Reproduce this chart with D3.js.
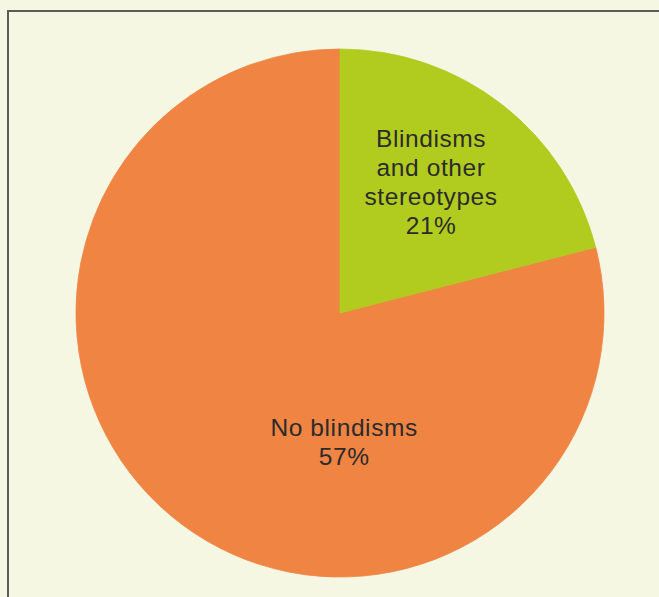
<!DOCTYPE html>
<html>
<head>
<meta charset="utf-8">
<script src="https://cdn.jsdelivr.net/npm/d3@7/dist/d3.min.js"></script>
<style>
  html, body { margin: 0; padding: 0; background: #f5f7e3; }
  svg { display: block; }
</style>
</head>
<body>
<svg id="chart" width="659" height="597"></svg>
<script>
// Share of participants by observed behaviour (percent)
const categories = ["Blindisms and other stereotypes", "No blindisms", "Remainder"];
const labelLines = [["Blindisms", "and other", "stereotypes", "21%"], ["No blindisms", "57%"], []];
const values = [21, 57, 22];
const colors = ["#b2cb1f", "#f08443", "#f08443"];

const svg = d3.select("#chart");
const W = 659, H = 597;
const cx = 340, cy = 313, radius = 264;

// Panel frame (left and top rules)
svg.append("rect").attr("x", 0).attr("y", 0).attr("width", W).attr("height", H).attr("fill", "#f5f7e3");
svg.append("path")
  .attr("d", `M8,${H} L8,11 L${W},11`)
  .attr("fill", "none")
  .attr("stroke", "#5c5c58")
  .attr("stroke-width", 2);

const data = categories.map((c, i) => ({ name: c, value: values[i], lines: labelLines[i], color: colors[i] }));

const pie = d3.pie().value(d => d.value).sort(null);
const arc = d3.arc().innerRadius(0).outerRadius(radius);
const arcs = pie(data);

const g = svg.append("g").attr("transform", `translate(${cx},${cy})`);

// Orange slices drawn first, green on top; matching strokes hide seams
const order = [1, 2, 0];
g.selectAll("path.slice")
  .data(order.map(i => arcs[i]))
  .join("path")
  .attr("class", "slice")
  .attr("d", arc)
  .attr("fill", d => d.data.color)
  .attr("stroke", d => d.data.color)
  .attr("stroke-width", 0.8)
  .attr("stroke-linejoin", "round");

// Labels placed along each slice's mid-angle
const labelRadius = [0.6, 0.5, 0.5];
const labelNudge = [[-6, 3], [0, 6]];
const lineH = 29;
arcs.forEach((a, i) => {
  if (!a.data.lines.length) return;
  const la = d3.arc().innerRadius(radius * labelRadius[i]).outerRadius(radius * labelRadius[i]);
  const [x0, y0] = la.centroid(a);
  const x = x0 + labelNudge[i][0], y = y0 + labelNudge[i][1];
  const n = a.data.lines.length;
  const t = g.append("text")
    .attr("text-anchor", "middle")
    .attr("font-family", "'Liberation Sans', Arial, sans-serif")
    .attr("font-size", 24.5)
    .attr("letter-spacing", 0.6)
    .attr("fill", "#2b2b2b");
  a.data.lines.forEach((ln, j) => {
    t.append("tspan")
      .attr("x", x)
      .attr("y", y + (j - (n - 1) / 2) * lineH)
      .text(ln);
  });
});
</script>
</body>
</html>
